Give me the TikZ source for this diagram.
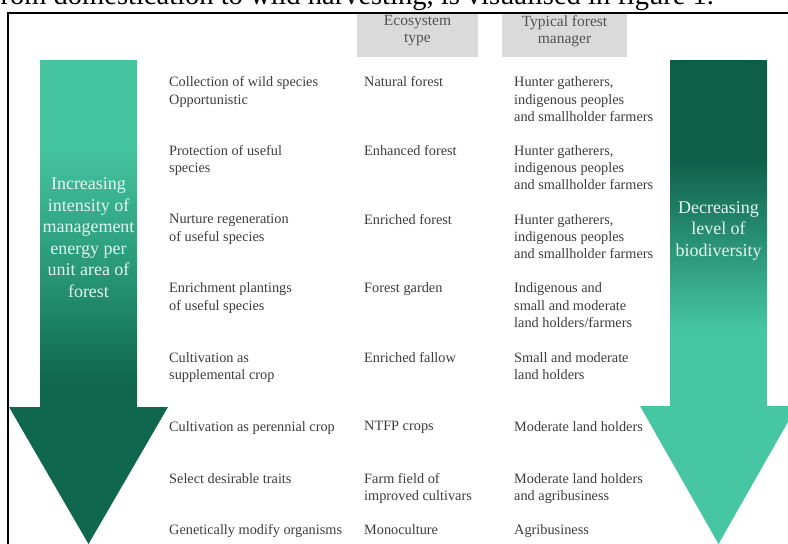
\documentclass[tikz,border=0pt]{standalone}
\usepackage{fontspec}
\setmainfont{Liberation Serif}
\usetikzlibrary{positioning}

\definecolor{darkgreen}{HTML}{0F684D}
\definecolor{midgreen}{HTML}{2A9A78}
\definecolor{lightgreen}{HTML}{45C4A0}
\definecolor{darkteal}{HTML}{0E5F48}
\definecolor{lightteal}{HTML}{46C6A2}
\definecolor{textgray}{HTML}{3C3C3C}
\definecolor{headgray}{HTML}{DADADA}
\definecolor{mint}{HTML}{E2F6EF}

\pgfdeclareverticalshading{leftfade}{100bp}{color(0bp)=(darkgreen); color(42bp)=(darkgreen); color(54bp)=(midgreen); color(66bp)=(lightgreen); color(100bp)=(lightgreen)}
\pgfdeclareverticalshading{rightfade}{100bp}{color(0bp)=(lightteal); color(47bp)=(lightteal); color(65bp)=(darkteal); color(100bp)=(darkteal)}

\begin{document}
\begin{tikzpicture}[x=1pt,y=-1pt,
  every node/.style={inner sep=0pt,text=textgray},
  cell/.style={anchor=north west,align=left,font=\fontsize{14.3}{17.2}\selectfont},
  headbox/.style={fill=headgray,minimum width=121pt,minimum height=43pt,anchor=north west},
  headtext/.style={anchor=north,align=center,text=black!68,font=\fontsize{15.5}{17.3}\selectfont},
  arrowtext/.style={anchor=north,align=center,text=mint,font=\fontsize{18}{21.5}\selectfont}]
\useasboundingbox (0,0) rectangle (788,544);
\clip (0,0) rectangle (788,544);

%cut-off line of the page above
\node[anchor=base west,text=black,font=\fontsize{28.5}{30}\selectfont] (pageline) at (-9,4) {from domestication to wild harvesting, is visualised in figure 1.};
\draw[line width=2pt](8,545)--(8,12.8)--(790,12.8);

%arrows
\shade[shading=leftfade](40,60)--(137,60)--(137,407)--(168,407)--(88.5,544)--(9,407)--(40,407)--cycle;
\shade[shading=rightfade](670,60)--(767,60)--(767,406)--(797,406)--(718.5,544)--(640,406)--(670,406)--cycle;
\node[arrowtext] (energy) at (88.5,177.7) {Increasing\\intensity of\\management\\energy per\\unit area of\\forest};
\node[arrowtext] (biodiv) at (718.5,201.2) {Decreasing\\level of\\biodiversity};

%column heads
\node[headbox] (ecobox) at (357,14) {};
\node[headbox,minimum width=125pt] (mgrbox) at (502,14) {};
\node[headtext] (ecohead) at (417.5,15.1) {Ecosystem\\type};
\node[headtext] (mgrhead) at (564.5,15.1) {Typical forest\\manager};

%rows
\node[cell] (act1) at (169,76.7) {Collection of wild species\\Opportunistic};
\node[cell] (eco1) at (364,76.7) {Natural forest};
\node[cell] (mgr1) at (514,76.7) {Hunter gatherers,\\indigenous peoples\\and smallholder farmers};

\node[cell] (act2) at (169,145.2) {Protection of useful\\species};
\node[cell] (eco2) at (364,145.2) {Enhanced forest};
\node[cell] (mgr2) at (514,145.2) {Hunter gatherers,\\indigenous peoples\\and smallholder farmers};

\node[cell] (act3) at (169,214.2) {Nurture regeneration\\of useful species};
\node[cell] (eco3) at (364,214.2) {Enriched forest};
\node[cell] (mgr3) at (514,214.2) {Hunter gatherers,\\indigenous peoples\\and smallholder farmers};

\node[cell] (act4) at (169,282.7) {Enrichment plantings\\of useful species};
\node[cell] (eco4) at (364,282.7) {Forest garden};
\node[cell] (mgr4) at (514,282.7) {Indigenous and\\small and moderate\\land holders/farmers};

\node[cell] (act5) at (169,352.2) {Cultivation as\\supplemental crop};
\node[cell] (eco5) at (364,352.2) {Enriched fallow};
\node[cell] (mgr5) at (514,352.2) {Small and moderate\\land holders};

\node[cell] (act6) at (169,421.2) {Cultivation as perennial crop};
\node[cell] (eco6) at (364,421.2) {NTFP crops};
\node[cell] (mgr6) at (514,421.2) {Moderate land holders};

\node[cell] (act7) at (169,473.2) {Select desirable traits};
\node[cell] (eco7) at (364,473.2) {Farm field of\\improved cultivars};
\node[cell] (mgr7) at (514,473.2) {Moderate land holders\\and agribusiness};

\node[cell] (act8) at (169,524.2) {Genetically modify organisms};
\node[cell] (eco8) at (364,524.2) {Monoculture};
\node[cell] (mgr8) at (514,524.2) {Agribusiness};
\end{tikzpicture}
\end{document}
